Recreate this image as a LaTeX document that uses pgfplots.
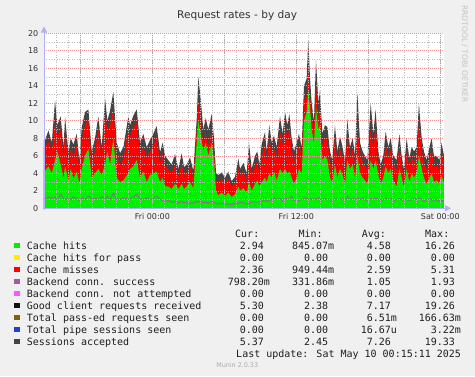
\documentclass[border=0pt]{standalone}
\usepackage{fontspec}
\setmainfont{DejaVu Sans}
\newfontfamily\monofont{DejaVu Sans Mono}
\usepackage{pgfplots}
\usepackage{pgfplotstable}
\pgfplotsset{compat=1.18}
\usetikzlibrary{arrows.meta}
\definecolor{bg}{HTML}{F0F0F0}
\definecolor{cgreen}{HTML}{00F000}
\definecolor{cyellow}{HTML}{FFEE00}
\definecolor{cred}{HTML}{FF0000}
\definecolor{cpurple}{HTML}{9E5FA0}
\definecolor{cpline}{HTML}{8E6A94}
\definecolor{cmagenta}{HTML}{FF55FF}
\definecolor{cblack}{HTML}{111111}
\definecolor{cbrown}{HTML}{7F5F10}
\definecolor{cblue}{HTML}{1F3FE0}
\definecolor{cdgray}{HTML}{444444}
\definecolor{majgrid}{HTML}{F09090}
\definecolor{mingrid}{HTML}{BBBBBB}
\definecolor{axisc}{HTML}{B0B0F4}
\definecolor{labelc}{HTML}{333333}
\definecolor{textc}{HTML}{1E1E1E}

% x (hours from Fri 00:00), G = cache hits, R = hits+misses, K = sessions envelope, P = backend conn. success
\pgfplotstableread{
x G R K P
-9.03 4.3 7.0 7.8 1.2
-8.94 4.3 7.0 7.8 1.0
-8.66 4.8 7.6 8.9 1.3
-8.38 4.0 6.4 7.5 1.1
-8.11 5.5 9.8 12.3 1.3
-7.92 6.5 8.3 9.5 1.0
-7.64 5.0 9.0 10.5 1.6
-7.41 3.5 5.8 7.0 1.1
-7.27 4.8 8.8 10.4 1.0
-7.00 3.2 5.2 6.5 1.2
-6.80 4.5 6.8 8.0 1.0
-6.58 3.4 6.0 7.3 1.3
-6.30 4.2 7.2 8.5 1.1
-6.08 2.8 4.5 5.5 0.9
-5.89 4.5 7.8 9.2 1.2
-5.61 6.0 9.5 11.0 1.0
-5.33 6.8 10.0 11.3 1.4
-5.05 3.5 5.3 6.5 1.1
-4.78 4.0 6.5 8.0 1.2
-4.50 4.5 9.0 10.5 1.0
-4.22 3.8 5.8 7.0 1.3
-3.94 5.0 10.8 12.6 1.1
-3.75 6.5 8.8 10.0 1.4
-3.52 5.0 9.5 11.2 1.0
-3.25 8.0 11.5 13.3 1.7
-2.97 3.5 6.0 7.5 1.1
-2.69 3.0 5.0 6.3 1.0
-2.41 3.2 5.7 7.0 1.2
-2.00 4.0 9.0 10.5 1.0
-1.86 4.5 8.2 9.5 1.1
-1.58 4.8 9.2 10.6 1.3
-1.30 5.5 9.8 11.3 1.6
-1.03 3.5 6.3 7.5 1.1
-0.75 4.2 7.0 8.5 1.0
-0.47 3.0 5.8 7.0 1.2
-0.19 3.8 6.5 7.8 1.0
0.08 4.0 7.2 8.5 1.1
0.36 4.2 8.0 9.4 1.4
0.64 3.0 5.2 6.4 1.0
0.86 3.5 6.3 7.5 0.9
1.06 2.5 4.8 6.0 0.8
1.33 2.5 4.5 5.5 0.9
1.61 2.2 4.0 5.0 0.7
1.89 2.8 5.0 6.2 0.8
2.17 2.2 3.6 4.5 0.6
2.45 2.8 5.0 6.3 0.8
2.64 2.2 3.8 4.7 0.6
2.86 2.5 4.1 5.0 0.7
3.14 3.0 4.8 5.8 0.6
3.42 2.3 3.5 4.3 0.6
3.70 7.5 8.8 10.2 0.8
3.83 10.0 12.0 15.0 0.7
4.03 8.5 10.0 12.5 0.8
4.25 6.5 7.5 9.0 0.6
4.45 7.5 8.5 10.3 0.7
4.67 6.0 7.2 9.0 0.6
4.95 7.5 8.8 10.8 0.8
5.14 5.5 6.5 8.0 0.7
5.31 2.0 3.2 4.0 0.5
5.50 1.5 3.0 3.8 0.5
5.78 1.8 3.3 4.1 0.6
6.06 1.4 2.8 3.5 0.5
6.33 1.8 3.4 4.2 0.5
6.61 1.3 2.5 3.1 0.4
6.89 1.6 2.9 3.6 0.6
7.17 2.5 4.6 5.7 0.6
7.31 2.0 3.7 4.5 0.7
7.59 2.3 4.2 5.2 0.6
7.86 1.8 3.2 4.0 0.5
8.06 3.0 6.2 7.5 0.6
8.28 2.0 3.6 4.5 0.7
8.56 2.8 4.9 6.0 0.8
8.75 3.2 5.4 6.5 0.7
8.92 2.5 4.0 5.0 0.8
9.11 3.0 6.0 7.3 0.8
9.39 3.5 7.2 8.7 1.0
9.53 3.0 5.3 6.5 0.8
9.75 4.0 8.0 9.5 0.9
9.95 3.5 6.2 7.5 1.0
10.14 4.2 7.0 8.3 1.2
10.36 3.2 5.8 7.0 1.0
10.64 4.5 8.8 10.5 1.1
10.86 4.0 7.2 8.5 0.9
11.06 4.5 9.5 11.0 1.2
11.25 4.0 8.0 9.5 1.0
11.42 4.2 9.2 10.8 1.1
11.61 3.5 6.8 8.0 1.4
11.81 2.8 5.3 6.5 0.9
12.03 3.5 6.2 7.5 1.0
12.22 4.5 7.2 8.5 0.9
12.45 4.0 6.0 7.0 1.0
12.64 10.0 12.3 14.0 1.1
12.86 11.0 13.0 14.8 1.2
13.00 13.5 15.5 19.3 1.0
13.14 11.5 13.0 15.0 1.1
13.28 9.0 10.5 12.0 1.0
13.47 7.5 8.8 10.0 1.1
13.64 11.5 14.0 17.0 1.0
13.84 9.0 10.5 12.0 1.2
13.97 9.5 11.5 13.5 0.9
14.17 5.5 7.2 8.5 1.0
14.39 6.0 8.0 9.5 1.1
14.59 5.5 7.8 9.3 1.0
14.81 3.5 5.3 6.5 1.0
15.00 3.0 4.5 5.5 0.9
15.22 5.0 8.0 9.5 1.1
15.42 3.5 5.3 6.5 1.0
15.64 4.5 6.8 8.2 1.0
15.86 3.8 5.8 7.0 1.1
16.06 2.8 4.3 5.3 0.9
16.25 5.5 8.5 10.2 1.3
16.47 4.5 5.8 7.0 1.0
16.70 5.0 6.7 8.0 1.1
16.89 3.5 4.9 6.0 1.0
17.09 6.0 9.0 13.2 1.2
17.31 4.0 6.2 7.5 1.0
17.53 3.5 5.3 6.5 1.1
17.72 3.2 4.8 6.0 1.0
17.92 2.8 4.4 5.5 0.9
18.20 5.5 9.0 12.0 1.1
18.42 4.5 7.0 8.5 1.0
18.61 5.5 9.5 11.3 1.2
18.84 3.8 5.3 6.5 1.0
19.03 2.8 4.0 5.0 0.9
19.25 3.5 4.9 6.0 1.0
19.45 4.8 7.3 8.8 1.1
19.67 4.0 5.8 7.0 1.0
19.86 4.5 6.7 8.0 1.1
20.09 3.2 4.9 6.0 0.9
20.36 2.5 4.4 5.5 1.0
20.59 4.5 7.0 8.5 1.1
20.78 3.5 4.9 6.0 1.0
20.97 2.5 3.6 4.5 0.9
21.20 4.5 6.5 8.0 1.0
21.42 3.0 4.6 5.7 0.9
21.61 4.0 5.8 7.0 1.0
21.81 3.5 5.3 6.5 1.1
22.03 4.0 5.8 7.0 1.0
22.22 6.0 9.8 12.0 1.2
22.45 4.5 6.7 8.0 1.0
22.64 3.5 5.3 6.5 0.9
22.86 2.8 4.4 5.5 1.0
23.09 3.5 5.8 7.0 1.1
23.28 4.0 6.7 8.0 1.0
23.47 3.0 4.9 6.0 0.9
23.70 3.2 4.9 6.0 1.0
23.92 2.8 4.4 5.5 0.8
24.11 3.8 6.3 7.5 0.9
24.31 2.9 5.3 6.0 0.8
}\ratedata

\newcommand\lrow[7]{%
  \fill[#2] (14,#1+1) rectangle (19.7,#1+6.6);
  \node[anchor=base west] at (26.7,#1) {#3};
  \node[anchor=base east] at (270.2,#1) {#4};
  \node[anchor=base east] at (334.4,#1) {#5};
  \node[anchor=base east] at (397.2,#1) {#6};
  \node[anchor=base east] at (461.2,#1) {#7};
}
\newcommand\sfx{\phantom{m}}

\begin{document}
\begin{tikzpicture}[x=1pt,y=1pt]
\fill[bg] (0,0) rectangle (475,376);
\begin{axis}[
  at={(44pt,167.7pt)}, anchor=south west,
  scale only axis, width=400pt, height=175pt,
  xmin=-9.03, xmax=24.31, ymin=0, ymax=20,
  axis background/.style={fill=white},
  axis line style={draw=none},
  tick style={draw=none},
  xtick={-6,0,6,12,18,24},
  xticklabels={,Fri 00:00,,Fri 12:00,,Sat 00:00},
  minor xtick={-9,-8,...,24},
  ytick={0,2,...,20},
  minor ytick={1,3,...,19},
  grid=both,
  major grid style={draw=majgrid, line width=0.6pt, dash pattern=on 1pt off 1pt},
  minor grid style={draw=mingrid, line width=0.6pt, dash pattern=on 1pt off 1.5pt},
  axis on top,
  /pgf/number format/assume math mode=true,
  ticklabel style={font=\fontsize{8}{9}\selectfont, text=labelc, inner sep=0pt},
  yticklabel style={anchor=east, xshift=-5.5pt},
  xticklabel style={anchor=north, yshift=-5pt},
  clip=true,
]
\addplot[fill=cdgray, draw=none] table[x=x, y=K] {\ratedata} \closedcycle;
\addplot[fill=cred, draw=none] table[x=x, y=R] {\ratedata} \closedcycle;
\addplot[fill=cgreen, draw=none] table[x=x, y=G] {\ratedata} \closedcycle;
\addplot[draw=cpline, line width=1pt] table[x=x, y=P] {\ratedata};
\end{axis}
% axis lines with arrows
\draw[axisc, line width=0.9pt, -{Triangle[length=6pt,width=6pt]}] (42.5,167.7) -- (451,167.7);
\draw[axisc, line width=0.9pt, -{Triangle[length=6pt,width=6pt]}] (44,166.5) -- (44,349.5);
% title
\node[anchor=base, inner sep=0pt, font=\fontsize{10.6}{12}\selectfont, text=labelc] at (237.2,357.7) {Request rates - by day};
% vertical credit
\node[rotate=-90, anchor=west, inner sep=0pt, font=\fontsize{7.6}{8}\selectfont, text={rgb,255:red,196;green,196;blue,196}] at (464.7,371) {RRDTOOL / TOBI OETIKER};
% legend
\begin{scope}[every node/.style={inner sep=0pt, font=\monofont\fontsize{10}{12}\selectfont, text=textc}]
\node[anchor=base west] at (235,138.7) {Cur:};
\node[anchor=base west] at (298.3,138.7) {Min:};
\node[anchor=base west] at (361.7,138.7) {Avg:};
\node[anchor=base west] at (425,138.7) {Max:};
\lrow{126.7}{cgreen}{Cache hits}{2.94\sfx}{845.07m}{4.58\sfx}{16.26\sfx}
\lrow{114.7}{cyellow}{Cache hits for pass}{0.00\sfx}{0.00\sfx}{0.00\sfx}{0.00\sfx}
\lrow{102.7}{cred}{Cache misses}{2.36\sfx}{949.44m}{2.59\sfx}{5.31\sfx}
\lrow{90.7}{cpurple}{Backend conn. success}{798.20m}{331.86m}{1.05\sfx}{1.93\sfx}
\lrow{78.7}{cmagenta}{Backend conn. not attempted}{0.00\sfx}{0.00\sfx}{0.00\sfx}{0.00\sfx}
\lrow{66.7}{cblack}{Good client requests received}{5.30\sfx}{2.38\sfx}{7.17\sfx}{19.26\sfx}
\lrow{54.7}{cbrown}{Total pass-ed requests seen}{0.00\sfx}{0.00\sfx}{6.51m}{166.63m}
\lrow{42.7}{cblue}{Total pipe sessions seen}{0.00\sfx}{0.00\sfx}{16.67u}{3.22m}
\lrow{30.7}{cdgray}{Sessions accepted}{5.37\sfx}{2.45\sfx}{7.26\sfx}{19.33\sfx}
\node[anchor=base east] at (461.2,18.7) {Last update: Sat May 10 00:15:11 2025};
\end{scope}
\node[anchor=base, inner sep=0pt, font=\fontsize{6.4}{7}\selectfont, text={rgb,255:red,170;green,170;blue,170}] at (237.2,8.7) {Munin 2.0.33};
\end{tikzpicture}
\end{document}
